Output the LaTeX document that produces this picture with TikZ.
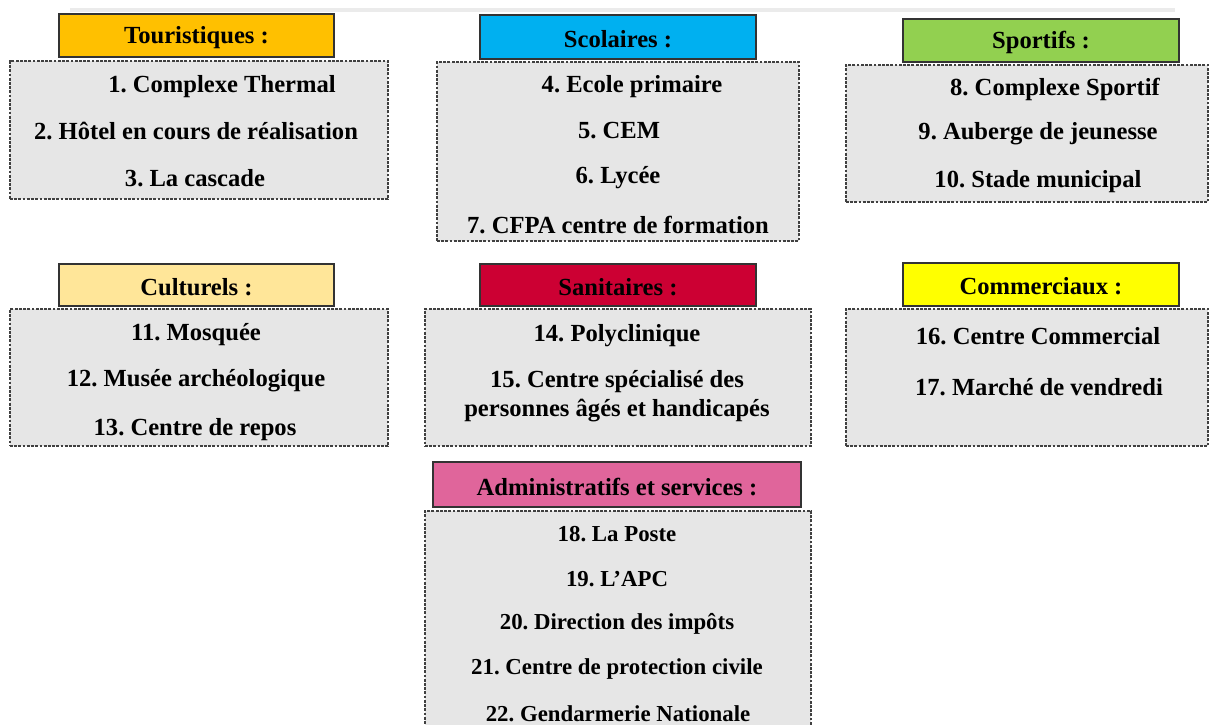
\documentclass[tikz,border=0pt]{standalone}
\usepackage{fontspec}
\setmainfont{Liberation Serif}
\usepackage{xcolor}
\usepackage{tikz}
\usetikzlibrary{positioning,fit}
\frenchspacing

\definecolor{tourcol}{HTML}{FFC000}
\definecolor{scolcol}{HTML}{00B0F0}
\definecolor{sportcol}{HTML}{92D050}
\definecolor{cultcol}{HTML}{FFE699}
\definecolor{sanicol}{HTML}{CC0033}
\definecolor{commcol}{HTML}{FFFF00}
\definecolor{admincol}{HTML}{E0659B}
\definecolor{boxgray}{HTML}{E6E6E6}

\begin{document}
\begin{tikzpicture}[
    x=0.02cm, y=-0.02cm,
    header/.style={draw=black!80, line width=0.8pt, inner sep=0pt},
    listbox/.style={draw=black!75, fill=boxgray, dash pattern=on 1.6pt off 0.8pt, line width=0.7pt, inner sep=0pt},
    item/.style={font=\fontsize{14}{16.5}\selectfont\bfseries, inner sep=0pt, yshift=-1.5pt},
    title/.style={item, yshift=0.3pt},
    smallitem/.style={font=\fontsize{13}{15}\selectfont\bfseries, inner sep=0pt, yshift=-1pt}
]
\useasboundingbox (0,0) rectangle (1209,724);

% Faint top rule
\draw[black!8, line width=2.5pt] (70,10) -- (1175,10);

% Touristiques
\node[listbox, fit={(10,61) (388,199)}] (tourbox) {};
\node[header, fill=tourcol, fit={(59,14) (334,57)}] (tourhead) {};
\node[title] (tourtitle) at (tourhead.center) {Touristiques :};
\node[item] (t1) at (222,84) {1. Complexe Thermal};
\node[item] (t2) at (196,128) {2. Hôtel en cours de réalisation};
\node[item] (t3) at (195,175) {3. La cascade};

% Scolaires
\node[listbox, fit={(437,62) (799,241)}] (scolbox) {};
\node[header, fill=scolcol, fit={(480,15) (756,59)}] (scolhead) {};
\node[title] (scoltitle) at (scolhead.center) {Scolaires :};
\node[item] (s4) at (632,84) {4. Ecole primaire};
\node[item] (s5) at (619,128) {5. CEM};
\node[item] (s6) at (618,175) {6. Lycée};
\node[item] (s7) at (618,222) {7. CFPA centre de formation};

% Sportifs
\node[listbox, fit={(846,65) (1208,202)}] (sportbox) {};
\node[header, fill=sportcol, fit={(903,19) (1179,62)}] (sporthead) {};
\node[title] (sporttitle) at (sporthead.center) {Sportifs :};
\node[item] (p8) at (1055,87) {8. Complexe Sportif};
\node[item] (p9) at (1038,131) {9. Auberge de jeunesse};
\node[item] (p10) at (1038,179) {10. Stade municipal};

% Culturels
\node[listbox, fit={(10,309) (388,446)}] (cultbox) {};
\node[header, fill=cultcol, fit={(59,264) (334,306)}] (culthead) {};
\node[title] (culttitle) at (culthead.center) {Culturels :};
\node[item] (c11) at (196,332) {11. Mosquée};
\node[item] (c12) at (196,378) {12. Musée archéologique};
\node[item] (c13) at (195,427) {13. Centre de repos};

% Sanitaires
\node[listbox, fit={(425,309) (811,446)}] (sanibox) {};
\node[header, fill=sanicol, fit={(480,264) (756,306)}] (sanihead) {};
\node[title] (sanititle) at (sanihead.center) {Sanitaires :};
\node[item] (h14) at (617,333) {14. Polyclinique};
\node[item, align=center] (h15) at (617,394) {15. Centre spécialisé des\\personnes âgés et handicapés};

% Commerciaux
\node[listbox, fit={(846,309) (1208,446)}] (commbox) {};
\node[header, fill=commcol, fit={(903,263) (1179,306)}] (commhead) {};
\node[title] (commtitle) at (commhead.center) {Commerciaux :};
\node[item] (m16) at (1038,333) {16. Centre Commercial};
\node[item] (m17) at (1039,384) {17. Marché de vendredi};

% Administratifs et services
\node[listbox, fit={(425,511) (811,735)}] (adminbox) {};
\node[header, fill=admincol, fit={(433,462) (801,507)}] (adminhead) {};
\node[title] (admintitle) at (adminhead.center) {Administratifs et services :};
\node[smallitem] (a18) at (617,532) {18. La Poste};
\node[smallitem] (a19) at (617,577) {19. L’APC};
\node[smallitem] (a20) at (617,622) {20. Direction des impôts};
\node[smallitem] (a21) at (617,667) {21. Centre de protection civile};
\node[smallitem] (a22) at (618,712) {22. Gendarmerie Nationale};

\end{tikzpicture}
\end{document}
